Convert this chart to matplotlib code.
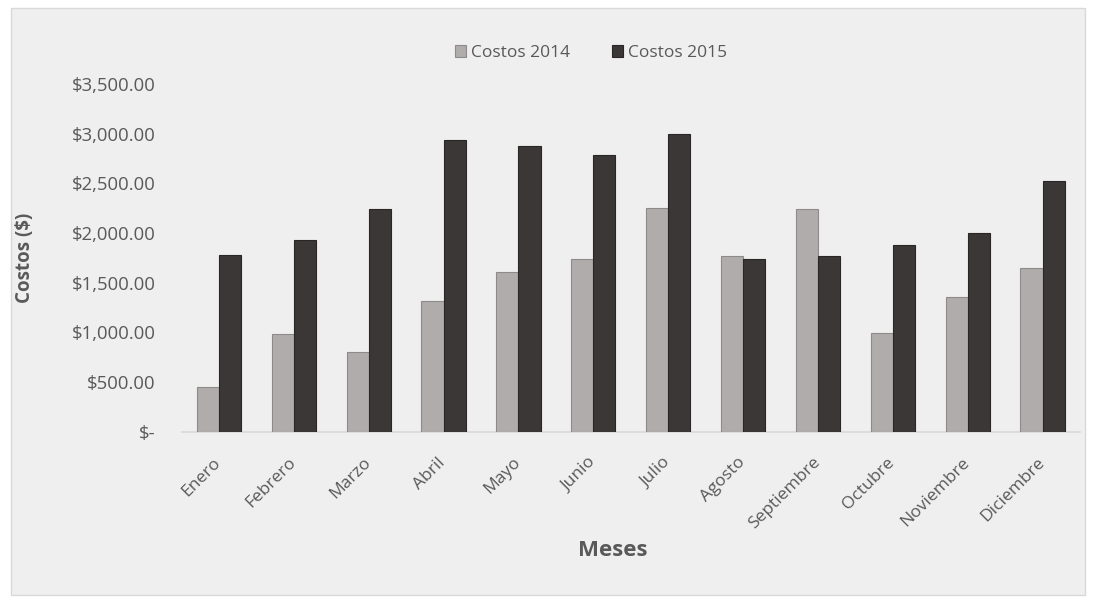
import matplotlib
matplotlib.use("Agg")
import matplotlib.pyplot as plt
import matplotlib.transforms as mtransforms
from matplotlib.patches import Rectangle
from matplotlib.ticker import FuncFormatter
import numpy as np

months = ["Enero", "Febrero", "Marzo", "Abril", "Mayo", "Junio", "Julio",
          "Agosto", "Septiembre", "Octubre", "Noviembre", "Diciembre"]
costos_2014 = [445, 980, 800, 1320, 1610, 1740, 2250, 1770, 2240, 990, 1360, 1650]
costos_2015 = [1775, 1930, 2240, 2940, 2880, 2790, 3000, 1740, 1770, 1880, 2000, 2520]
y_ticks = [0, 500, 1000, 1500, 2000, 2500, 3000, 3500]

plt.rcParams['font.family'] = ['Open Sans', 'DejaVu Sans']

bg = "#efefef"
txt = "#595959"
fig = plt.figure(figsize=(10.94, 6.03), dpi=100)
fig.patch.set_facecolor("white")
fig.patches.append(Rectangle((11/1094, 8/603), 1074/1094, 587/603,
                             transform=fig.transFigure, facecolor=bg,
                             edgecolor="#d9d9d9", linewidth=1, zorder=-10))

L, R, B, T = 181.5, 1080, 431.7, 84.0
ax = fig.add_axes([L/1094, 1 - B/603, (R - L)/1094, (B - T)/603])
ax.set_facecolor(bg)
ax.patch.set_alpha(0)

x = np.arange(len(months))
w = 0.295
ax.bar(x - w/2, costos_2014, w, color="#b0acab", edgecolor="#8e8a89",
       linewidth=0.8, label="Costos 2014", zorder=3)
ax.bar(x + w/2, costos_2015, w, color="#3b3736", edgecolor="#2a2625",
       linewidth=0.8, label="Costos 2015", zorder=3)

ax.set_xlim(-0.5, len(months) - 0.5)
ax.set_ylim(0, 3500)
ax.set_yticks(y_ticks)

def fmt(v, pos):
    if v == 0:
        return "$-"
    return "${:,.2f}".format(v)

ax.yaxis.set_major_formatter(FuncFormatter(fmt))
ax.set_xticks(x)
ax.set_xticklabels(months, rotation=45, ha="right", va="top",
                   rotation_mode="anchor")
ax.tick_params(axis="y", length=0, pad=18.4, labelsize=13.3, labelcolor=txt)
ax.tick_params(axis="x", length=0, pad=16.5, labelsize=12.5, labelcolor=txt)
offset = mtransforms.ScaledTranslation(-6/100, 0, fig.dpi_scale_trans)
for lbl in ax.get_xticklabels():
    lbl.set_transform(lbl.get_transform() + offset)

for s in ["top", "right", "left"]:
    ax.spines[s].set_visible(False)
ax.spines["bottom"].set_color("#d9d9d9")
ax.spines["bottom"].set_linewidth(1.2)

ax.set_ylabel("Costos ($)", fontsize=13.5, fontweight="bold", color=txt)
ax.yaxis.set_label_coords((35 - L)/(R - L), 0.5)
ax.set_xlabel("Meses", fontsize=16, fontweight="bold", color=txt)
ax.xaxis.set_label_coords((613 - L)/(R - L), (B - 540)/(B - T))

leg = ax.legend(loc="center", bbox_to_anchor=((591 - L)/(R - L), 1 + (T - 53)/(B - T)),
                ncol=2, frameon=False, fontsize=12.5, handlelength=0.65,
                handleheight=0.65, handletextpad=0.3, columnspacing=2.4)
for t in leg.get_texts():
    t.set_color(txt)

fig.savefig("out.png", dpi=100, facecolor=fig.get_facecolor())
